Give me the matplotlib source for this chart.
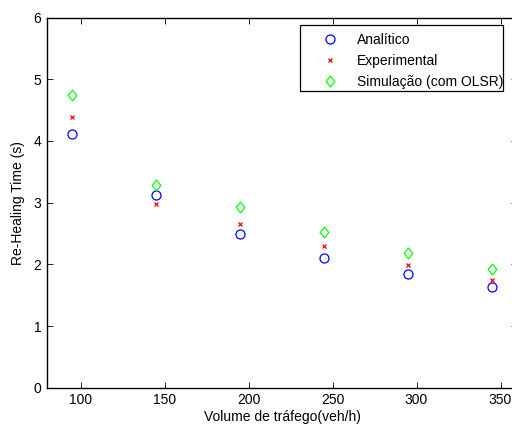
import matplotlib
matplotlib.use("Agg")
import matplotlib.pyplot as plt
from matplotlib.path import Path
from matplotlib.patches import Rectangle

plt.rcParams['font.family'] = ['Liberation Sans', 'DejaVu Sans']
plt.rcParams['font.size'] = 10

# trafego (veh/h) e tempos de re-healing (s)
volume = [95, 145, 195, 245, 295, 345]
analitico = [4.11, 3.12, 2.49, 2.11, 1.84, 1.63]
experimental = [4.38, 2.98, 2.66, 2.30, 1.99, 1.74]
simulacao = [4.75, 3.28, 2.93, 2.53, 2.19, 1.92]

# losango um pouco mais alto do que largo
losango = Path([(0, 1), (0.8, 0), (0, -1), (-0.8, 0), (0, 1)],
               [Path.MOVETO, Path.LINETO, Path.LINETO, Path.LINETO, Path.CLOSEPOLY])

fig = plt.figure(figsize=(5.12, 4.26), dpi=100)
W, H = 512, 426
left, right, top, bottom = 47, 517.3, 17.5, 387.7
ax = fig.add_axes([left / W, 1 - bottom / H, (right - left) / W, (bottom - top) / H])

ax.plot(volume, analitico, 'o', mfc='none', mec='blue', ms=6.5, mew=0.9, label='Analítico')
ax.plot(volume, experimental, 'x', color='red', ms=3.5, mew=0.9, label='Experimental')
ax.plot(volume, simulacao, marker=losango, ls='none', mfc='none', mec='#00ff00', ms=7.8, mew=0.9,
        label='Simulação (com OLSR)')

ax.set_xlim(80, 360)
ax.set_ylim(0, 6)
ax.set_xticks([100, 150, 200, 250, 300, 350])
ax.set_yticks(range(7))
ax.tick_params(direction='in', top=True, right=True, length=4, width=0.6, pad=4)
for s in ax.spines.values():
    s.set_linewidth(1.0)

ax.set_xlabel('Volume de tráfego(veh/h)', labelpad=2)
ax.set_ylabel('Re-Healing Time (s)', labelpad=6)

# caixa da legenda desenhada a parte, com margens no estilo do MATLAB
caixa = Rectangle((300 / W, 1 - 91 / H), 203 / W, 66 / H, transform=fig.transFigure,
                  facecolor='white', edgecolor='black', lw=0.9, zorder=4.5, clip_on=False)
ax.add_patch(caixa)
leg = ax.legend(loc='upper left', bbox_to_anchor=(316 / W, 1 - 33 / H), bbox_transform=fig.transFigure,
                frameon=False, borderpad=0, borderaxespad=0,
                handlelength=2.0, handletextpad=0.95, labelspacing=0.5)

fig.savefig('out.png', dpi=100)
